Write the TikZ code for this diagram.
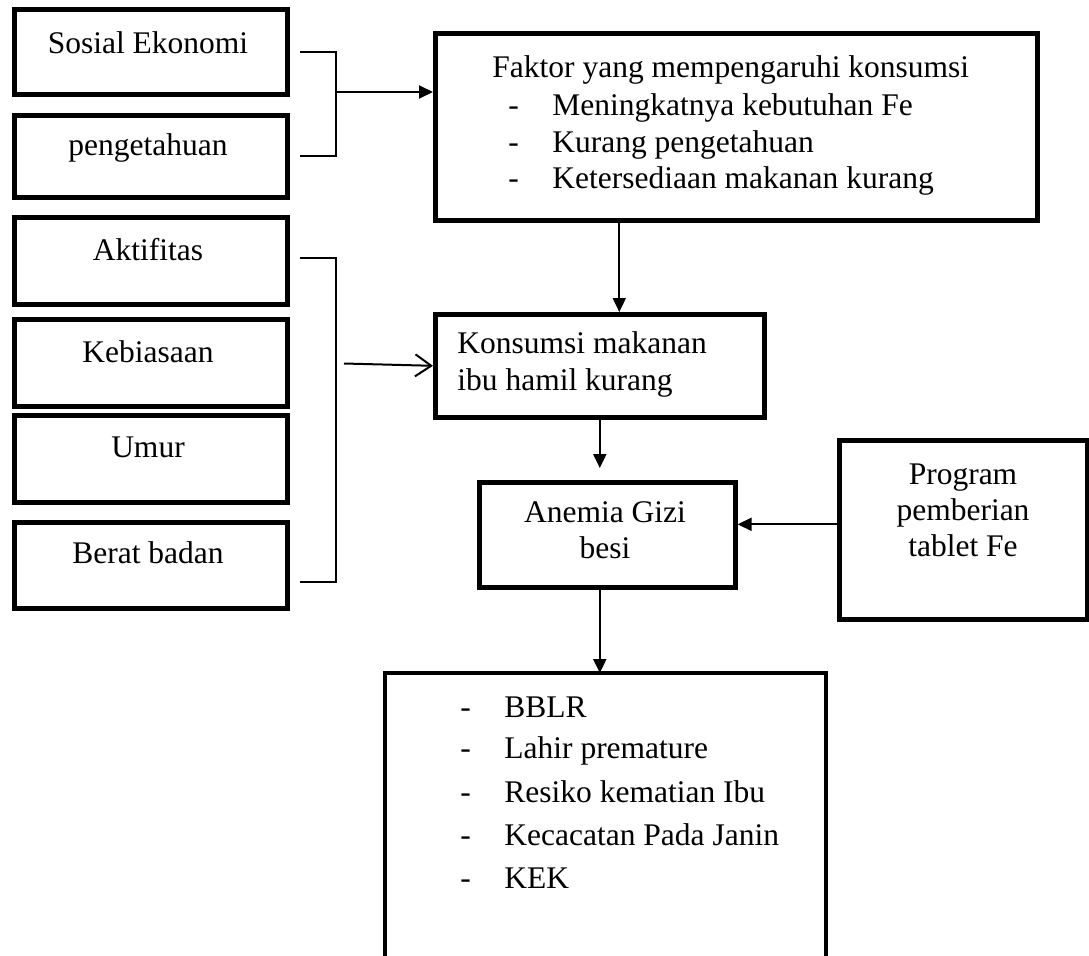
\documentclass[tikz,border=0pt]{standalone}
\usepackage{fontspec}
\setmainfont{Liberation Serif}
\usetikzlibrary{arrows.meta}
\tikzset{
  box/.style={draw, line width=2.3pt, inner sep=0pt, anchor=north west},
  link/.style={line width=1pt},
  arr/.style={line width=1pt, -{Triangle[length=7pt,width=6.5pt]}},
  openarr/.style={line width=1pt, -{Straight Barb[length=8pt,width=11pt]}},
  txt/.style={inner sep=0pt, font=\fontsize{15.75}{18}\selectfont},
}
\begin{document}
\begin{tikzpicture}[x=0.5pt,y=-0.5pt]
    \useasboundingbox (0,0) rectangle (1089,955);
    % left boxes
    \node[box, minimum width=136.5pt, minimum height=42.5pt] (sosial) at (12,7) {};
    \node[box, minimum width=136.5pt, minimum height=41pt] (peng) at (12,113) {};
    \node[box, minimum width=136.5pt, minimum height=43.5pt] (aktif) at (12,215) {};
    \node[box, minimum width=136.5pt, minimum height=43.5pt] (kebiasaan) at (12,317) {};
    \node[box, minimum width=136.5pt, minimum height=43.5pt] (umur) at (12,413) {};
    \node[box, minimum width=136.5pt, minimum height=43pt] (berat) at (12,520) {};
    \node[txt, anchor=base] (t-sosial) at (148,53) {Sosial Ekonomi};
    \node[txt, anchor=base] (t-peng) at (148,155) {pengetahuan};
    \node[txt, anchor=base] (t-aktif) at (148,260) {Aktifitas};
    \node[txt, anchor=base] (t-kebiasaan) at (148,362) {Kebiasaan};
    \node[txt, anchor=base] (t-umur) at (148,457) {Umur};
    \node[txt, anchor=base] (t-berat) at (148,563) {Berat badan};
    % middle column
    \node[box, minimum width=301pt, minimum height=93.5pt] (faktor) at (433,31) {};
    \node[txt, anchor=base west] (t-faktor) at (492,77) {Faktor yang mempengaruhi konsumsi};
    \node[txt, anchor=base west] (d-faktor1) at (508,115) {-};
    \node[txt, anchor=base west] (d-faktor2) at (508,152) {-};
    \node[txt, anchor=base west] (d-faktor3) at (508,188) {-};
    \node[txt, anchor=base west] (t-faktor1) at (552,115) {Meningkatnya kebutuhan Fe};
    \node[txt, anchor=base west] (t-faktor2) at (552,152) {Kurang pengetahuan};
    \node[txt, anchor=base west] (t-faktor3) at (552,188) {Ketersediaan makanan kurang};
    \node[box, minimum width=164.5pt, minimum height=51.5pt] (konsumsi) at (433,312) {};
    \node[txt, anchor=base west] (t-konsumsi1) at (457,353) {Konsumsi makanan};
    \node[txt, anchor=base west] (t-konsumsi2) at (457,390) {ibu hamil kurang};
    \node[box, minimum width=128pt, minimum height=52.5pt] (anemia) at (477,480) {};
    \node[txt, anchor=base] (t-anemia1) at (605,522) {Anemia Gizi};
    \node[txt, anchor=base] (t-anemia2) at (605,558) {besi};
    \node[box, minimum width=124pt, minimum height=89.5pt] (program) at (837,438) {};
    \node[txt, anchor=base] (t-program1) at (963,484) {Program};
    \node[txt, anchor=base] (t-program2) at (963,520) {pemberian};
    \node[txt, anchor=base] (t-program3) at (963,556) {tablet Fe};
    % bottom box, open at the lower edge
    \node[inner sep=0pt, minimum width=220pt, minimum height=146pt, anchor=north west] (hasil) at (385,673) {};
    \draw[line width=2.3pt] (hasil.south west) |- (hasil.north east) -- (hasil.south east);
    \node[txt, anchor=base west] (d-hasil1) at (460,717) {-};
    \node[txt, anchor=base west] (d-hasil2) at (460,758) {-};
    \node[txt, anchor=base west] (d-hasil3) at (460,802) {-};
    \node[txt, anchor=base west] (d-hasil4) at (460,845) {-};
    \node[txt, anchor=base west] (d-hasil5) at (460,888) {-};
    \node[txt, anchor=base west] (t-hasil1) at (504,717) {BBLR};
    \node[txt, anchor=base west] (t-hasil2) at (504,758) {Lahir premature};
    \node[txt, anchor=base west] (t-hasil3) at (504,802) {Resiko kematian Ibu};
    \node[txt, anchor=base west] (t-hasil4) at (504,845) {Kecacatan Pada Janin};
    \node[txt, anchor=base west] (t-hasil5) at (504,888) {KEK};
    % connectors
    \coordinate (j1) at (336,92);
    \draw[link] ([xshift=5pt]sosial.east) -| (j1) |- ([xshift=5pt]peng.east);
    \draw[arr] (j1) -- (j1 -| faktor.west);
    \coordinate (j2) at (336,363.5);
    \draw[link] ([xshift=5pt,yshift=1.5pt]aktif.east) -| (j2) |- ([xshift=5pt,yshift=-8.5pt]berat.east);
    \draw[openarr] ([xshift=4pt]j2) -- (konsumsi.west);
    \draw[arr] ([xshift=9.75pt]konsumsi.north |- faktor.south) -- ([xshift=9.75pt]konsumsi.north);
    \draw[arr, shorten >=6pt] (konsumsi.south) -- (konsumsi.south |- anemia.north);
    \draw[arr] (konsumsi.south |- anemia.south) -- (konsumsi.south |- hasil.north);
    \draw[arr] ([yshift=2.75pt]program.west) -- ([yshift=2.75pt]program.west -| anemia.east);
\end{tikzpicture}
\end{document}
